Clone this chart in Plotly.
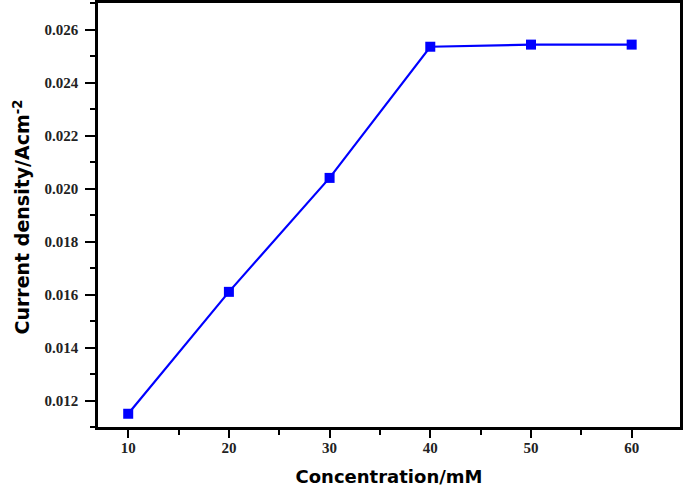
import plotly.graph_objects as go

concentration = [10, 20, 30, 40, 50, 60]
current_density = [0.0115, 0.0161, 0.0204, 0.02535, 0.02543, 0.02543]
x_ticks = [10, 20, 30, 40, 50, 60]
y_ticks = [0.012, 0.014, 0.016, 0.018, 0.020, 0.022, 0.024, 0.026]

fig = go.Figure()
fig.add_trace(go.Scatter(
    x=concentration, y=current_density, mode="lines+markers",
    line=dict(color="#0000FF", width=2.2),
    marker=dict(symbol="square", size=10, color="#0000FF"),
    showlegend=False,
))

tickfont = dict(family="Liberation Serif", size=15, color="#222222")
fig.update_layout(
    width=685, height=487,
    margin=dict(l=98, r=5, t=3, b=60, autoexpand=False),
    paper_bgcolor="white", plot_bgcolor="white",
    xaxis=dict(
        range=[7, 64.8], tickvals=x_ticks, ticktext=["<b>%d</b>" % v for v in x_ticks],
        ticks="outside", ticklen=8, tickwidth=2, tickcolor="black",
        minor=dict(dtick=5, tick0=5, ticks="outside", ticklen=5, tickwidth=2, tickcolor="black"),
        showline=True, linewidth=2.5, linecolor="black", mirror=True,
        showgrid=False, zeroline=False, automargin=False,
        tickfont=tickfont, ticklabelstandoff=-3,
        title=dict(text="<b>Concentration/mM</b>", font=dict(family="DejaVu Sans", size=18, color="black"), standoff=18),
    ),
    yaxis=dict(
        range=[0.011, 0.027], tickvals=y_ticks, ticktext=["<b>%.3f</b>" % v for v in y_ticks],
        ticks="outside", ticklen=10, tickwidth=2, tickcolor="black",
        minor=dict(dtick=0.001, tick0=0.011, ticks="outside", ticklen=5, tickwidth=2, tickcolor="black"),
        showline=True, linewidth=2.5, linecolor="black", mirror=True,
        showgrid=False, zeroline=False, automargin=False,
        tickfont=tickfont, ticklabelstandoff=4,
    ),
    annotations=[dict(
        text="<b>Current density/Acm<sup>-2</sup></b>", textangle=-90,
        xref="paper", yref="paper", x=(21.5 - 98) / 582, y=(427 - 217) / 424,
        xanchor="center", yanchor="middle", showarrow=False,
        font=dict(family="DejaVu Sans", size=19, color="black"),
    )],
)
fig.write_html("out.html", config={"displayModeBar": False},
               post_script="document.body.style.margin='0';document.body.style.overflow='hidden';")
